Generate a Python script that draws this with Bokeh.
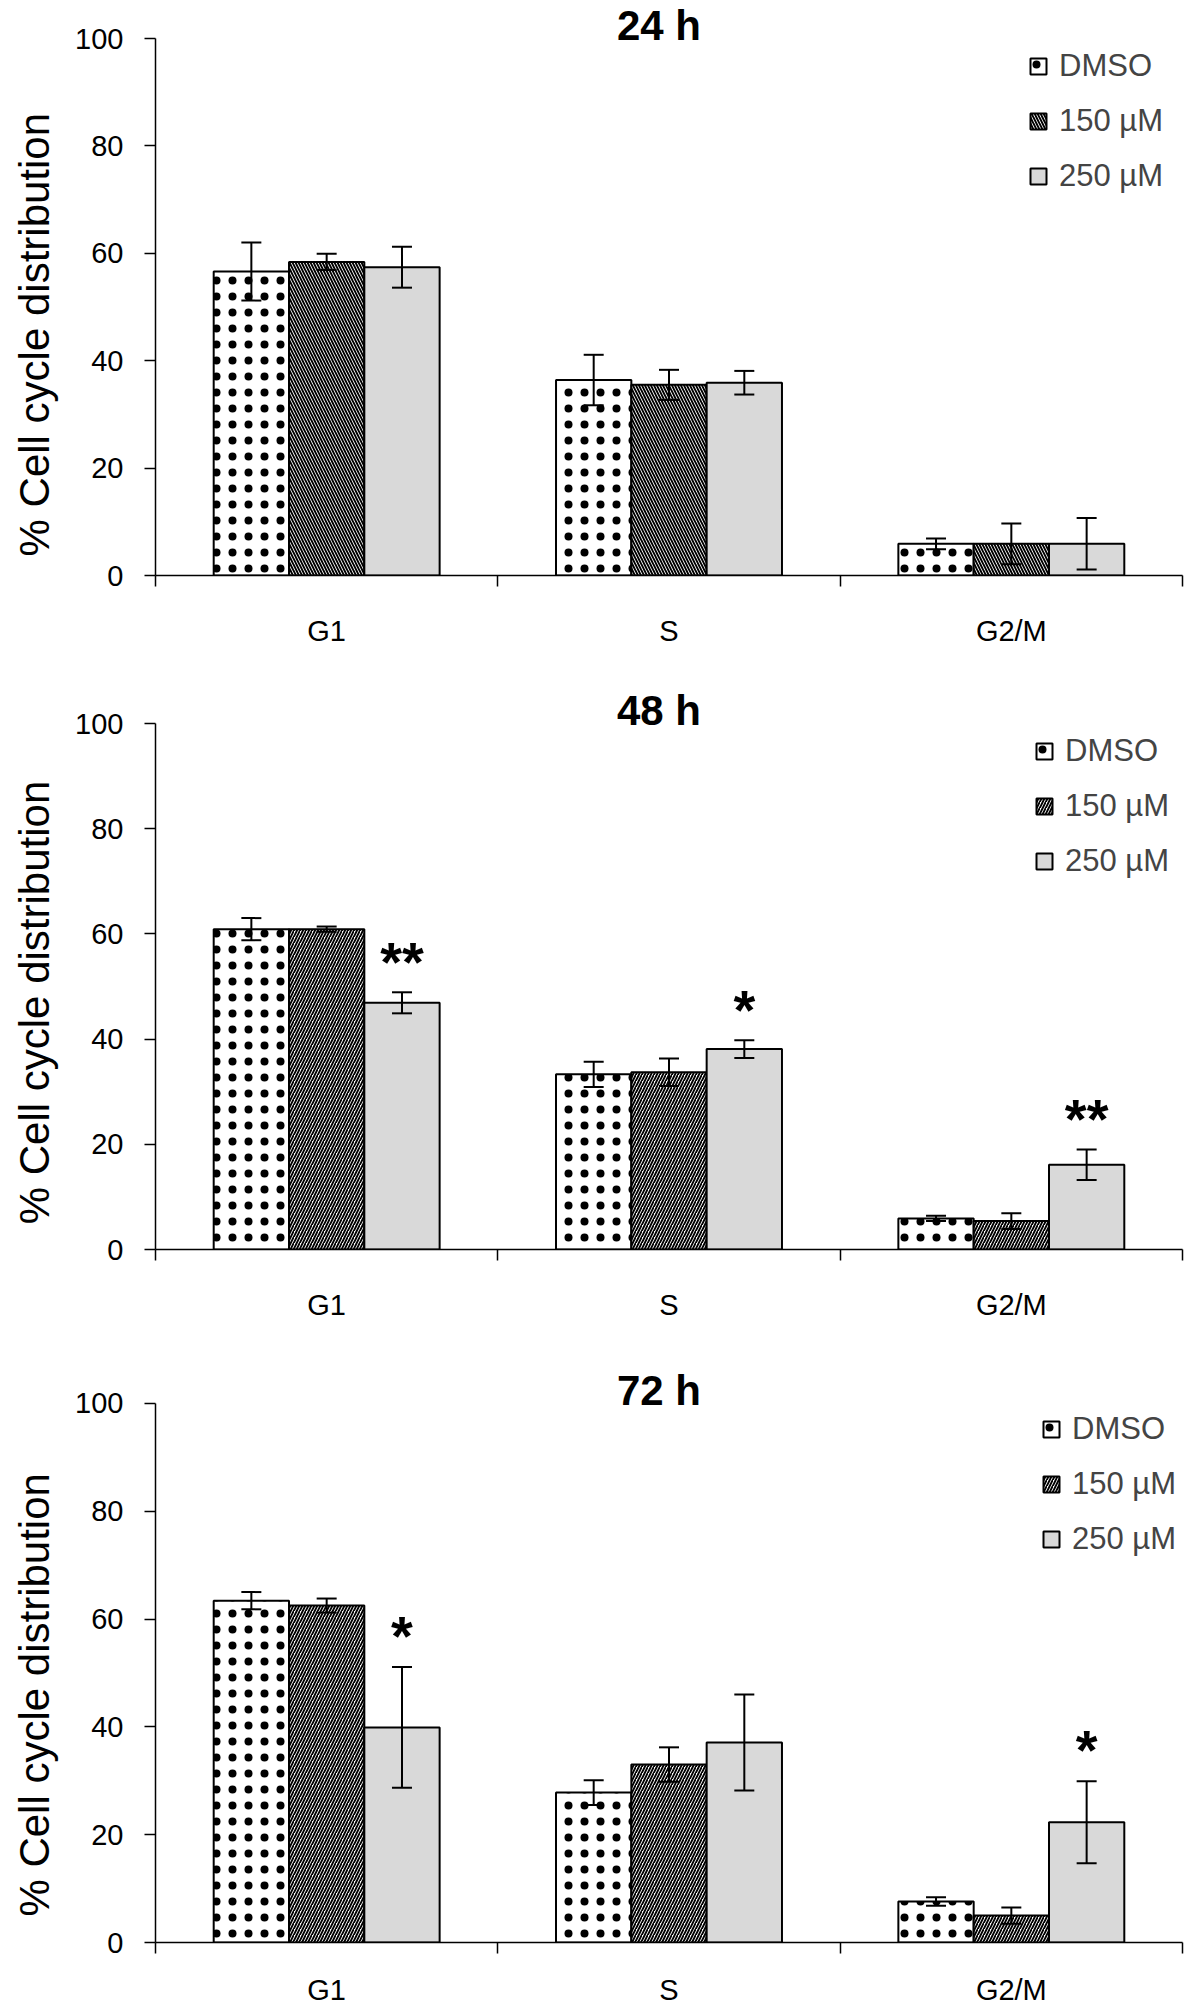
from bokeh.plotting import figure
from bokeh.models import (ColumnDataSource, Range1d, FixedTicker, Whisker, TeeHead,
                          Legend, LegendItem, Label)
from bokeh.layouts import column
from bokeh.embed import file_html
from bokeh.resources import INLINE
from bokeh.core.properties import value

# ---------------- data ----------------
phases = ["G1", "S", "G2/M"]
groups = ["DMSO", "150 µM", "250 µM"]
y_ticks = [0, 20, 40, 60, 80, 100]
titles = ["24 h", "48 h", "72 h"]
y_label = "% Cell cycle distribution"

dmso_24 = [56.6, 36.4, 5.9]
dmso_24_err = [5.4, 4.7, 1.0]
uM150_24 = [58.4, 35.5, 5.9]
uM150_24_err = [1.5, 2.8, 3.8]
uM250_24 = [57.4, 35.9, 5.9]
uM250_24_err = [3.8, 2.2, 4.8]
stars_24 = ["", "", ""]

dmso_48 = [60.9, 33.3, 5.9]
dmso_48_err = [2.1, 2.4, 0.5]
uM150_48 = [60.9, 33.7, 5.4]
uM150_48_err = [0.5, 2.6, 1.5]
uM250_48 = [46.9, 38.1, 16.1]
uM250_48_err = [2.0, 1.7, 2.9]
stars_48 = ["**", "*", "**"]

dmso_72 = [63.4, 27.8, 7.6]
dmso_72_err = [1.6, 2.3, 0.8]
uM150_72 = [62.5, 33.0, 5.0]
uM150_72_err = [1.3, 3.2, 1.5]
uM250_72 = [39.9, 37.1, 22.3]
uM250_72_err = [11.2, 8.9, 7.6]
stars_72 = ["*", "", "*"]

FONT = "Liberation Sans"
BAR_W = 0.22
PAD = 38      # px of free frame space above the 100 line, holding the title
FIG_W = 1196


def make_panel(title, vals, errs, stars, pat150, top, plot100, bottom, left, right,
               lab_standoff, ylab_shift):
    height = top + PAD + plot100 + bottom
    y_end = 100 + 100.0 * PAD / plot100
    p = figure(width=FIG_W, height=height, output_backend="svg", toolbar_location=None,
               x_range=Range1d(0, 3), y_range=Range1d(0, y_end),
               min_border_top=top, min_border_left=left, min_border_right=right,
               min_border_bottom=bottom)
    p.outline_line_color = None
    p.xgrid.grid_line_color = None
    p.ygrid.grid_line_color = None
    p.background_fill_color = "white"

    styles = [
        dict(fill_color="white", hatch_pattern="dot", hatch_scale=16, hatch_weight=0.9,
             hatch_color="black"),
        dict(fill_color="white", hatch_pattern=pat150, hatch_scale=6, hatch_weight=1.9,
             hatch_color="black"),
        dict(fill_color="#d9d9d9"),
    ]
    items = []
    for j, g in enumerate(groups):
        xs = [i + 0.5 + (j - 1) * BAR_W for i in range(len(phases))]
        src = ColumnDataSource(dict(
            x=xs, top=vals[j],
            upper=[v + e for v, e in zip(vals[j], errs[j])],
            lower=[v - e for v, e in zip(vals[j], errs[j])],
        ))
        r = p.vbar(x="x", top="top", bottom=0, width=BAR_W, source=src,
                   line_color="black", line_width=2, **styles[j])
        w = Whisker(source=src, base="x", upper="upper", lower="lower",
                    line_color="black", line_width=2, level="overlay",
                    upper_head=TeeHead(size=20, line_width=2, line_color="black"),
                    lower_head=TeeHead(size=20, line_width=2, line_color="black"))
        p.add_layout(w)
        items.append(LegendItem(label=g, renderers=[r]))

    # significance stars above the 250 µM bars
    sx = [i + 0.5 + BAR_W for i in range(len(phases))]
    sy = [v + e + 5.9 for v, e in zip(vals[2], errs[2])]
    p.text(x=sx, y=sy, text=stars, text_align="center", text_baseline="middle",
           text_font=value(FONT), text_font_size="56px", text_font_style="bold",
           text_color="black")

    frame_w = FIG_W - left - right
    legend = Legend(items=items, location=(frame_w - 155, plot100 - 2.5 - 153),
                    margin=0, padding=5,
                    spacing=19, glyph_width=20, glyph_height=20, label_standoff=11,
                    label_text_font=FONT, label_text_font_size="31px",
                    border_line_color=None, background_fill_alpha=0)
    p.add_layout(legend)

    # title sitting on top of the 100 line
    p.add_layout(Label(x=1.5, y=100, text=title, text_align="center",
                       text_baseline="middle", x_offset=-10, y_offset=13,
                       text_font=FONT, text_font_size="42px", text_font_style="bold",
                       text_color="black"))

    # axes
    xa = p.xaxis[0]
    xa.ticker = FixedTicker(ticks=[0.5, 1.5, 2.5], minor_ticks=[0, 1, 2, 3])
    xa.major_label_overrides = {0.5: phases[0], 1.5: phases[1], 2.5: phases[2]}
    xa.major_tick_line_color = None
    xa.major_tick_out = 11
    xa.major_tick_in = 0
    xa.minor_tick_out = 11
    xa.minor_tick_in = 0
    xa.minor_tick_line_color = "black"
    xa.minor_tick_line_width = 1.5
    xa.axis_line_color = "black"
    xa.axis_line_width = 1.5
    xa.major_label_text_font = FONT
    xa.major_label_text_font_size = "29px"
    xa.major_label_text_color = "black"
    xa.major_label_standoff = lab_standoff

    ya = p.yaxis[0]
    ya.bounds = (0, 100)
    ya.ticker = FixedTicker(ticks=y_ticks, minor_ticks=[])
    ya.major_tick_out = 11
    ya.major_tick_in = 0
    ya.major_tick_line_color = "black"
    ya.major_tick_line_width = 1.5
    ya.axis_line_color = "black"
    ya.axis_line_width = 1.5
    ya.major_label_text_font = FONT
    ya.major_label_text_font_size = "29px"
    ya.major_label_text_color = "black"
    ya.major_label_standoff = 21
    # trailing no-break spaces lower the centred label a little, as in the original
    ya.axis_label = y_label + "\u00a0" * ylab_shift
    ya.axis_label_text_font = FONT
    ya.axis_label_text_font_size = "42px"
    ya.axis_label_text_font_style = "normal"
    ya.axis_label_text_color = "black"
    ya.axis_label_standoff = 14
    return p


p1 = make_panel(titles[0], [dmso_24, uM150_24, uM250_24],
                [dmso_24_err, uM150_24_err, uM250_24_err], stars_24,
                "left_diagonal_line", 0, 537, 110, 154, 14, 28, 8)
p2 = make_panel(titles[1], [dmso_48, uM150_48, uM250_48],
                [dmso_48_err, uM150_48_err, uM250_48_err], stars_48,
                "right_diagonal_line", 0, 526, 116, 148, 14, 28, 6)
p3 = make_panel(titles[2], [dmso_72, uM150_72, uM250_72],
                [dmso_72_err, uM150_72_err, uM250_72_err], stars_72,
                "right_diagonal_line", 0, 541, 64, 155, 0, 20, 7)

layout = column(p1, p2, p3, spacing=0)
open("out.html", "w").write(file_html(layout, INLINE))
